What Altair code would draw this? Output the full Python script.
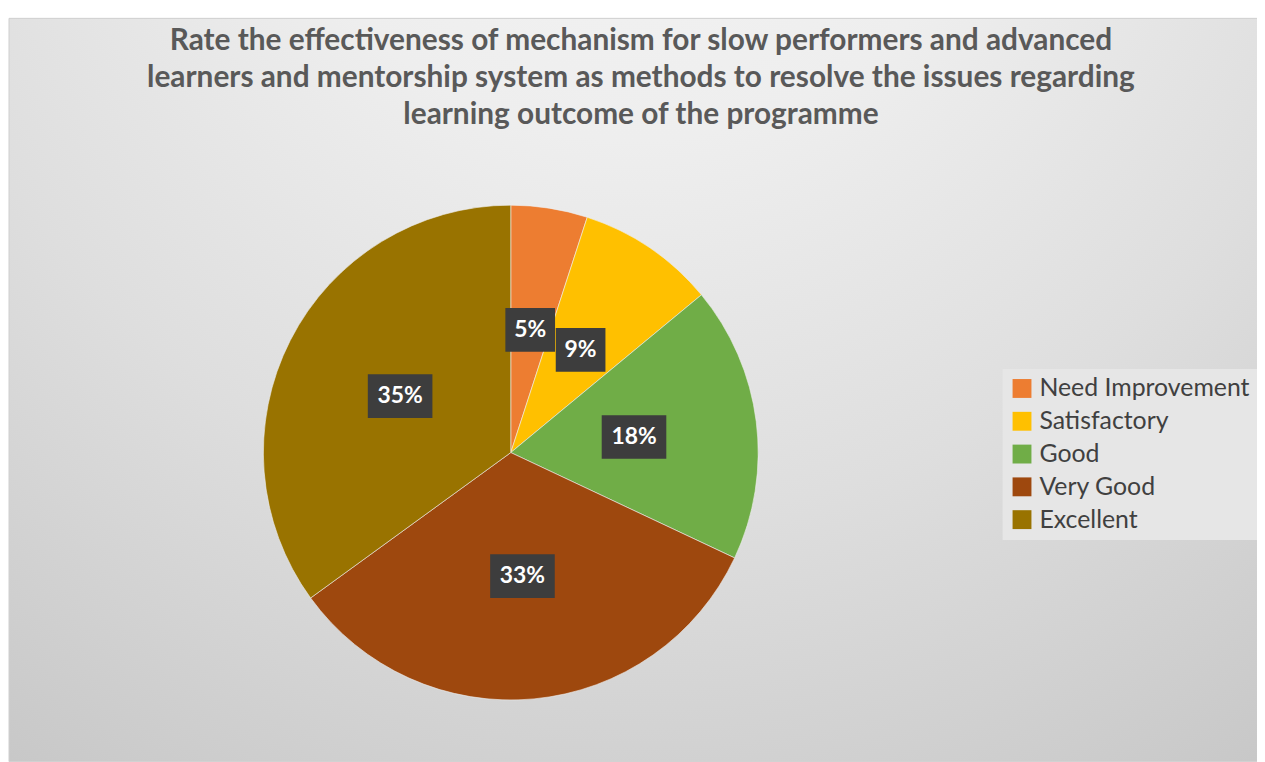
import altair as alt
import pandas as pd

categories = ["Need Improvement", "Satisfactory", "Good", "Very Good", "Excellent"]
shares = [5, 9, 18, 33, 35]
colors = ["#ED7D31", "#FFC000", "#70AD47", "#9E480E", "#997300"]
title_lines = [
    "Rate the effectiveness of mechanism for slow performers and advanced",
    "learners and mentorship system as methods to resolve the issues regarding",
    "learning outcome of the programme",
]

W, H = 1257, 754
CX, CY, R = 506, 445, 249
LR = 125
FONT = "Lato"

df = pd.DataFrame({"category": categories, "share": shares, "order": list(range(len(categories)))})
color_scale = alt.Scale(domain=categories, range=colors)

bg = alt.Chart(pd.DataFrame({"a": [0]})).mark_rect(
    fill=alt.Gradient(
        gradient="radial",
        stops=[
            alt.GradientStop(color="#f4f4f4", offset=0),
            alt.GradientStop(color="#eeeeee", offset=0.3),
            alt.GradientStop(color="#dedede", offset=0.6),
            alt.GradientStop(color="#c4c4c4", offset=1),
        ],
        x1=0.5, y1=0.0, r1=0.0, x2=0.5, y2=0.0, r2=1.0,
    ),
    stroke="#d0d0d0",
    strokeWidth=1,
).encode(x=alt.value(1), x2=alt.value(W + 2), y=alt.value(8), y2=alt.value(H + 2))

title = alt.Chart(pd.DataFrame({"a": [0]})).mark_text(
    font=FONT, fontSize=30, fontWeight="bold", color="#595959",
    align="center", baseline="alphabetic", lineBreak="\n", lineHeight=37,
).encode(x=alt.value(637), y=alt.value(40), text=alt.value("\n".join(title_lines)))

pie = alt.Chart(df).mark_arc(outerRadius=R, stroke="#f0f0f0", strokeWidth=0.6).encode(
    theta=alt.Theta("share:Q", stack=True),
    order=alt.Order("order:Q"),
    color=alt.Color(
        "category:N", scale=color_scale, sort=categories,
        legend=alt.Legend(
            title=None, orient="none", legendX=1001, legendY=361,
            symbolType="square", symbolSize=361, symbolStrokeWidth=0,
            labelFont=FONT, labelFontSize=25, labelColor="#404040", labelLimit=400,
            labelOffset=5, rowPadding=7, padding=7, fillColor="#e6e6e6",
        ),
    ),
    x=alt.value(CX), y=alt.value(CY),
)

lab = alt.Chart(df).transform_window(
    cum="sum(share)", sort=[alt.SortField("order")], frame=[None, 0]
).transform_calculate(
    mid="(datum.cum - datum.share / 2) / 100 * 2 * PI",
    lx=f"{CX} + {LR} * sin(datum.mid)",
    ly=f"{CY} - {LR} * cos(datum.mid)",
    label="datum.share + '%'",
).transform_calculate(
    hw="10 + 7.5 * length(datum.label)",
).transform_calculate(
    x0="datum.lx - datum.hw", x1="datum.lx + datum.hw",
    y0="datum.ly - 22", y1="datum.ly + 22",
)

xs = alt.Scale(domain=[0, W], nice=False, zero=False)
ys = alt.Scale(domain=[0, H], nice=False, zero=False, reverse=True)

boxes = lab.mark_rect(fill="#3d3d3d").encode(
    x=alt.X("x0:Q", scale=xs, axis=None), x2="x1:Q",
    y=alt.Y("y0:Q", scale=ys, axis=None), y2="y1:Q",
)
texts = lab.mark_text(
    font=FONT, fontSize=23, fontWeight="bold", color="#ffffff", baseline="middle", align="center"
).encode(
    x=alt.X("lx:Q", scale=xs, axis=None),
    y=alt.Y("ly:Q", scale=ys, axis=None),
    text="label:N",
)

chart = alt.layer(bg, title, pie, boxes, texts).properties(
    width=W, height=H, padding=0, autosize=alt.AutoSizeParams(type="none"), background="#ffffff"
).configure_view(stroke=None)

chart.save("out.html", embed_options={"renderer": "svg", "actions": False})
